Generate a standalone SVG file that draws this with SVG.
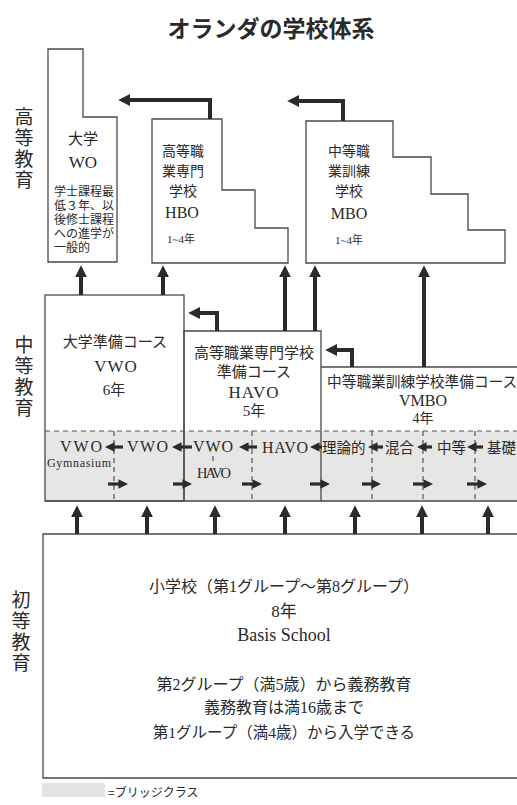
<svg xmlns="http://www.w3.org/2000/svg" width="517" height="805" viewBox="0 0 517 805">
<defs>
<style>
.box{fill:none;stroke:#4a4a4a;stroke-width:1.3}
.dash{fill:none;stroke:#555;stroke-width:1.2;stroke-dasharray:5 4}
.sans{font-family:"Noto Sans CJK JP","Noto Sans",sans-serif;fill:#2a2a2a}
.ser{font-family:"Liberation Serif","Noto Sans CJK JP",serif;fill:#2a2a2a}
.m{text-anchor:middle}
.vt{writing-mode:vertical-rl;font-size:19px;letter-spacing:2px}
.arr{fill:none;stroke:#2b2b2b;stroke-width:4;marker-end:url(#ah)}
.sa{fill:none;stroke:#2b2b2b;stroke-width:3.2;marker-end:url(#ah)}
</style>
<marker id="ah" viewBox="0 0 10 10" refX="1" refY="5" markerWidth="3" markerHeight="3" orient="auto"><path d="M0,0 L10,5 L0,10 z" fill="#2b2b2b"/></marker>
</defs>
<rect width="517" height="805" fill="#fff"/>

<g id="title"><text class="sans m" x="271" y="37" font-size="23" font-weight="bold">オランダの学校体系</text></g>

<g id="label-higher"><text class="sans vt" x="24" y="107">高等教育</text></g>
<g id="label-secondary"><text class="sans vt" x="24" y="335">中等教育</text></g>
<g id="label-primary"><text class="sans vt" x="21" y="590">初等教育</text></g>

<g id="node-wo">
<path class="box" d="M48,49 H83 V117 H117 V262 H48 Z"/>
<text class="ser m" x="83" y="144" font-size="15">大学</text>
<text class="ser m" x="83" y="168" font-size="17">WO</text>
<g class="ser" font-size="12">
<text x="54" y="196">学士課程最</text>
<text x="54" y="210">低３年、以</text>
<text x="54" y="224">後修士課程</text>
<text x="54" y="238">への進学が</text>
<text x="54" y="252">一般的</text>
</g>
</g>

<g id="node-hbo">
<path class="box" d="M152,119 H222 V190 H255 V228 H288 V263 H152 Z"/>
<g class="ser m" font-size="14">
<text x="183" y="156">高等職</text>
<text x="183" y="176">業専門</text>
<text x="183" y="196">学校</text>
</g>
<text class="ser m" x="182" y="218" font-size="16">HBO</text>
<text class="ser m" x="181" y="243" font-size="11">1~4年</text>
</g>

<g id="node-mbo">
<path class="box" d="M306,121 H393 V157 H431 V194 H468 V230 H505 V263 H306 Z"/>
<g class="ser m" font-size="14">
<text x="349" y="156">中等職</text>
<text x="349" y="176">業訓練</text>
<text x="349" y="196">学校</text>
</g>
<text class="ser m" x="349" y="219" font-size="16">MBO</text>
<text class="ser m" x="349" y="244" font-size="11">1~4年</text>
</g>

<g id="bridge">
<rect x="45" y="431" width="475" height="70" fill="#e6e6e6"/>
<path class="dash" d="M45,431 H517"/>
<path class="dash" d="M114,431 V501 M252,431 V501 M372,431 V501 M423,431 V501 M475,431 V501 M213,456 V464"/>
<g class="ser" font-size="16">
<text x="60" y="452" textLength="42">VWO</text>
<text x="127" y="452" textLength="41">VWO</text>
<text x="193" y="452" textLength="40">VWO</text>
<text x="262" y="453" textLength="46">HAVO</text>
</g>
<text class="ser" x="47" y="467" font-size="12" textLength="64">Gymnasium</text>
<text class="ser" x="197" y="478" font-size="14.5" textLength="34">HAVO</text>
<g class="ser" font-size="14.5">
<text x="322" y="453">理論的</text>
<text x="385" y="453">混合</text>
<text x="437" y="453">中等</text>
<text x="487" y="453">基礎</text>
</g>
</g>

<g id="node-vwo">
<rect class="box" x="45" y="295" width="139" height="206"/>
<g class="ser m">
<text x="115" y="347" font-size="15">大学準備コース</text>
<text x="116" y="372" font-size="17" letter-spacing="1">VWO</text>
<text x="114" y="395" font-size="15">6年</text>
</g>
</g>

<g id="node-havo">
<path class="box" d="M184,501 V331 H321 V501"/>
<g class="ser m">
<text x="254" y="358" font-size="15">高等職業専門学校</text>
<text x="254" y="377" font-size="15">準備コース</text>
<text x="254" y="398" font-size="17" letter-spacing="1">HAVO</text>
<text x="254" y="416" font-size="15">5年</text>
</g>
</g>

<g id="node-vmbo">
<path class="box" d="M321,367 H520 M45,501 H520"/>
<text class="ser" x="327" y="387" font-size="14.7">中等職業訓練学校準備コース</text>
<g class="ser m">
<text x="423" y="406" font-size="16">VMBO</text>
<text x="423" y="423" font-size="14">4年</text>
</g>
</g>

<g id="node-primary">
<path class="box" d="M520,534 H43 V778 H520"/>
<g class="ser m">
<text x="284" y="592" font-size="16">小学校（第1グループ～第8グループ）</text>
<text x="284" y="617" font-size="17">8年</text>
<text x="284" y="641" font-size="18">Basis School</text>
<text x="284" y="690" font-size="16">第2グループ（満5歳）から義務教育</text>
<text x="284" y="713" font-size="16">義務教育は満16歳まで</text>
<text x="284" y="738" font-size="15.5">第1グループ（満4歳）から入学できる</text>
</g>
</g>

<g id="legend">
<rect x="42" y="783" width="63" height="14" fill="#e3e3e3"/>
<text class="sans" x="108" y="797" font-size="12">=ブリッジクラス</text>
</g>

<g id="connectors">
<path class="arr" d="M210,119 V100 H129"/>
<path class="arr" d="M343,121 V101 H298"/>
<path class="arr" d="M217,331 V313 H199"/>
<path class="arr" d="M352,367 V350 H336"/>
<path class="arr" d="M81,295 V276"/>
<path class="arr" d="M163,295 V276"/>
<path class="arr" d="M285,331 V276"/>
<path class="arr" d="M315,331 V276"/>
<path class="arr" d="M424,367 V276"/>
<path class="arr" d="M77,534 V516"/>
<path class="arr" d="M147,534 V516"/>
<path class="arr" d="M215,534 V516"/>
<path class="arr" d="M285,534 V516"/>
<path class="arr" d="M355,534 V516"/>
<path class="arr" d="M422,534 V516"/>
<path class="arr" d="M488,534 V516"/>
<path class="sa" d="M123,447 H113.6"/>
<path class="sa" d="M192,447 H180.6"/>
<path class="sa" d="M257,447 H247.6"/>
<path class="sa" d="M322,447 H318.6"/>
<path class="sa" d="M383,447 H376.6"/>
<path class="sa" d="M432,447 H425.6"/>
<path class="sa" d="M483,447 H475.6"/>
<path class="sa" d="M108,484 H119.4"/>
<path class="sa" d="M173,484 H183.4"/>
<path class="sa" d="M242,484 H253.4"/>
<path class="sa" d="M310,484 H321.4"/>
<path class="sa" d="M362,484 H372.4"/>
<path class="sa" d="M413,484 H424.4"/>
<path class="sa" d="M467,484 H478.4"/>
</g>
</svg>
